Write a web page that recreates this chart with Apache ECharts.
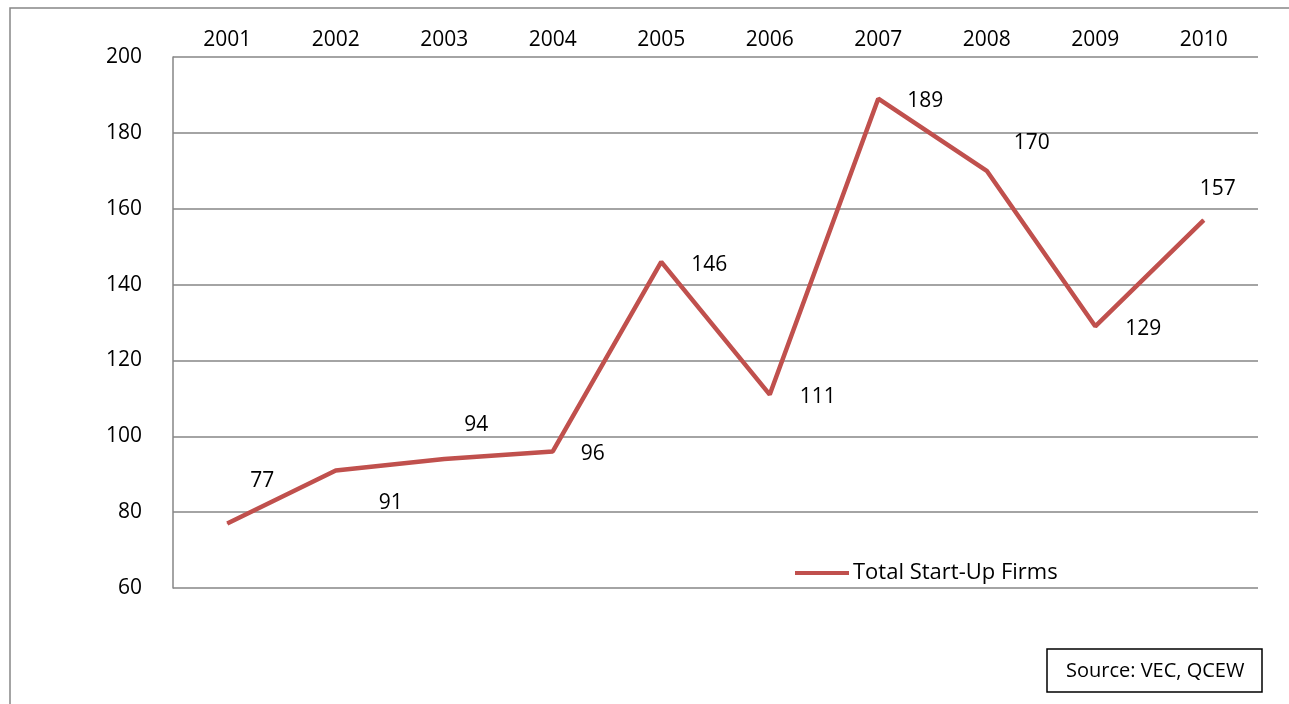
<!DOCTYPE html>
<html><head><meta charset="utf-8">
<script src="https://cdn.jsdelivr.net/npm/echarts@6/dist/echarts.min.js"></script>
<style>html,body{margin:0;padding:0;background:#fff}#c{width:1289px;height:704px}</style>
</head><body><div id="c"></div>
<script>
var years = ['2001','2002','2003','2004','2005','2006','2007','2008','2009','2010'];
var startUps = [77, 91, 94, 96, 146, 111, 189, 170, 129, 157];
var seriesName = 'Total Start-Up Firms';
var sourceText = 'Source: VEC, QCEW';

// label placement (pixel offsets from each point)
var labelOffsets = [[35,-43],[55,33],[32,-34],[40,3],[48,3],[48,2],[47,2],[45,-28],[48,3],[14,-31]];

var font = '"Open Sans", "Liberation Sans", sans-serif';
var fs = 21;
var chart = echarts.init(document.getElementById('c'), null, {renderer:'canvas'});
chart.setOption({
  animation: false,
  backgroundColor: '#fff',
  textStyle: {fontFamily: font},
  grid: {left: 173, right: 31, top: 57, bottom: 116, containLabel: false},
  legend: {
    data: [seriesName], left: 795, top: 562, padding: 0, itemWidth: 54, itemHeight: 4, itemGap: 4,
    icon: 'rect',
    textStyle: {fontFamily: font, fontSize: 22, color: '#000', padding: [0,0,0,-1]}
  },
  xAxis: {
    type: 'category', data: years, position: 'top', boundaryGap: true,
    axisLine: {show: false}, axisTick: {show: false},
    axisLabel: {fontFamily: font, fontSize: fs, color: '#000', margin: 6}
  },
  yAxis: {
    type: 'value', min: 60, max: 200, interval: 20,
    axisLine: {show: true, lineStyle: {color: '#868686', width: 1.5}},
    axisTick: {show: false},
    splitLine: {lineStyle: {color: '#868686', width: 1.5}},
    axisLabel: {fontFamily: font, fontSize: fs, color: '#000', margin: 31, padding: [4,0,0,0]}
  },
  series: [{
    name: seriesName, type: 'line',
    data: startUps.map(function(v, i){
      return {value: v, label: {offset: labelOffsets[i]}};
    }),
    symbol: 'circle', symbolSize: 1, showSymbol: true,
    itemStyle: {color: '#C0504D'},
    lineStyle: {color: '#C0504D', width: 4.5},
    label: {show: true, position: 'inside', fontFamily: font, fontSize: fs, color: '#000'}
  }],
  graphic: [
    {type: 'rect', shape: {x: 10, y: 8, width: 1300, height: 720}, style: {fill: 'none', stroke: '#868686', lineWidth: 1.5}, silent: true},
    {type: 'rect', shape: {x: 1047, y: 649, width: 215, height: 43}, style: {fill: '#fff', stroke: '#000', lineWidth: 1.5}},
    {type: 'text', left: 1066, top: 661, style: {text: sourceText, font: '20px ' + font, fill: '#000'}}
  ]
});
</script></body></html>
